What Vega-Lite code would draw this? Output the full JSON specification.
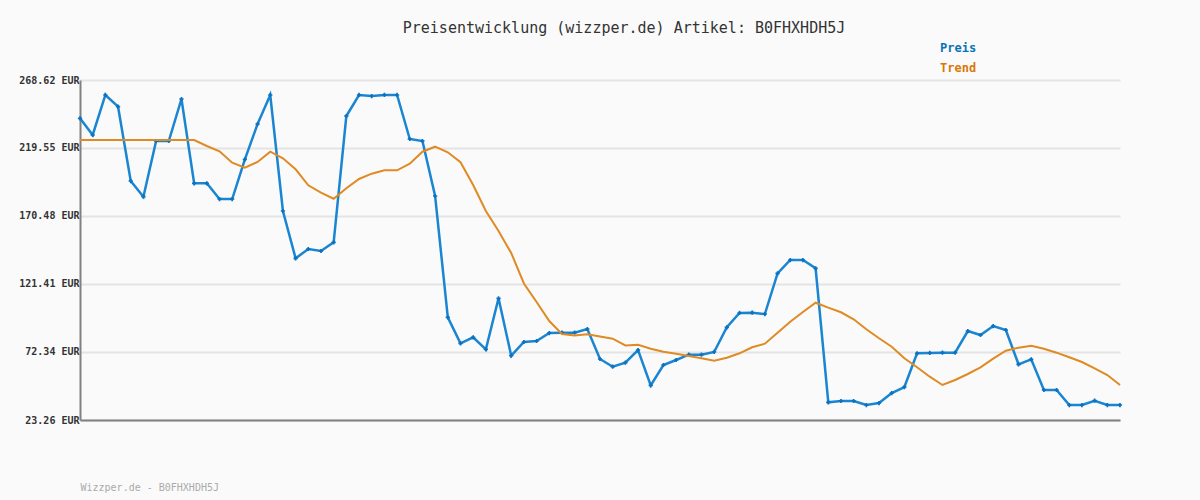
{
  "$schema": "https://vega.github.io/schema/vega-lite/v6.json",
  "width": 1040,
  "height": 340,
  "autosize": {"type": "none"},
  "padding": {"left": 80, "top": 80, "right": 80, "bottom": 80},
  "background": "#fafafa",
  "title": {
    "text": "Preisentwicklung (wizzper.de) Artikel: B0FHXHDH5J",
    "font": "DejaVu Sans Mono",
    "fontSize": 15,
    "fontWeight": "normal",
    "color": "#333333",
    "anchor": "middle",
    "dx": 24,
    "offset": 6
  },
  "config": {
    "view": {"stroke": null},
    "font": "DejaVu Sans Mono"
  },
  "datasets": {
    "preis": [
      {"idx":0,"value":240.98},{"idx":1,"value":228.93},{"idx":2,"value":257.80},{"idx":3,"value":249.35},
      {"idx":4,"value":195.73},{"idx":5,"value":184.40},{"idx":6,"value":224.60},{"idx":7,"value":224.60},
      {"idx":8,"value":254.91},{"idx":9,"value":194.07},{"idx":10,"value":194.07},{"idx":11,"value":182.74},
      {"idx":12,"value":182.74},{"idx":13,"value":211.39},{"idx":14,"value":236.87},{"idx":15,"value":257.80},
      {"idx":16,"value":174.08},{"idx":17,"value":139.95},{"idx":18,"value":146.66},{"idx":19,"value":145.22},
      {"idx":20,"value":151.50},{"idx":21,"value":242.64},{"idx":22,"value":257.80},{"idx":23,"value":257.07},
      {"idx":24,"value":257.80},{"idx":25,"value":257.80},{"idx":26,"value":226.04},{"idx":27,"value":224.60},
      {"idx":28,"value":184.91},{"idx":29,"value":97.37},{"idx":30,"value":78.61},{"idx":31,"value":82.94},
      {"idx":32,"value":74.28},{"idx":33,"value":111.08},{"idx":34,"value":69.66},{"idx":35,"value":79.55},
      {"idx":36,"value":80.27},{"idx":37,"value":86.04},{"idx":38,"value":86.26},{"idx":39,"value":86.26},
      {"idx":40,"value":88.93},{"idx":41,"value":67.28},{"idx":42,"value":61.72},{"idx":43,"value":64.61},
      {"idx":44,"value":73.77},{"idx":45,"value":48.30},{"idx":46,"value":62.95},{"idx":47,"value":66.56},
      {"idx":48,"value":70.38},{"idx":49,"value":70.38},{"idx":50,"value":72.34},{"idx":51,"value":90.16},
      {"idx":52,"value":100.48},{"idx":53,"value":100.70},{"idx":54,"value":99.75},{"idx":55,"value":129.13},
      {"idx":56,"value":138.72},{"idx":57,"value":138.72},{"idx":58,"value":132.73},{"idx":59,"value":36.03},
      {"idx":60,"value":36.97},{"idx":61,"value":36.97},{"idx":62,"value":34.08},{"idx":63,"value":35.52},
      {"idx":64,"value":42.74},{"idx":65,"value":47.07},{"idx":66,"value":71.40},{"idx":67,"value":71.62},
      {"idx":68,"value":71.84},{"idx":69,"value":71.84},{"idx":70,"value":87.48},{"idx":71,"value":84.60},
      {"idx":72,"value":91.09},{"idx":73,"value":88.21},{"idx":74,"value":63.45},{"idx":75,"value":67.06},
      {"idx":76,"value":44.91},{"idx":77,"value":44.91},{"idx":78,"value":34.08},{"idx":79,"value":34.08},
      {"idx":80,"value":37.19},{"idx":81,"value":34.08},{"idx":82,"value":34.08}
    ],
    "trend": [
      {"idx":0,"value":225.32},{"idx":1,"value":225.32},{"idx":2,"value":225.32},{"idx":3,"value":225.32},
      {"idx":4,"value":225.32},{"idx":5,"value":225.32},{"idx":6,"value":225.32},{"idx":7,"value":225.32},
      {"idx":8,"value":225.32},{"idx":9,"value":225.32},{"idx":10,"value":220.99},{"idx":11,"value":217.17},
      {"idx":12,"value":208.94},{"idx":13,"value":205.33},{"idx":14,"value":209.44},{"idx":15,"value":216.88},
      {"idx":16,"value":212.11},{"idx":17,"value":204.18},{"idx":18,"value":192.63},{"idx":19,"value":187.29},
      {"idx":20,"value":182.96},{"idx":21,"value":190.47},{"idx":22,"value":197.18},{"idx":23,"value":201.00},
      {"idx":24,"value":203.45},{"idx":25,"value":203.45},{"idx":26,"value":208.22},{"idx":27,"value":216.88},
      {"idx":28,"value":220.49},{"idx":29,"value":216.44},{"idx":30,"value":209.30},{"idx":31,"value":192.85},
      {"idx":32,"value":174.08},{"idx":33,"value":159.65},{"idx":34,"value":143.77},{"idx":35,"value":121.76},
      {"idx":36,"value":108.41},{"idx":37,"value":94.70},{"idx":38,"value":85.32},{"idx":39,"value":84.24},
      {"idx":40,"value":85.10},{"idx":41,"value":83.52},{"idx":42,"value":81.93},{"idx":43,"value":77.02},
      {"idx":44,"value":77.59},{"idx":45,"value":74.71},{"idx":46,"value":72.55},{"idx":47,"value":71.10},
      {"idx":48,"value":69.44},{"idx":49,"value":67.86},{"idx":50,"value":65.98},{"idx":51,"value":68.22},
      {"idx":52,"value":71.40},{"idx":53,"value":75.73},{"idx":54,"value":78.33},{"idx":55,"value":86.26},
      {"idx":56,"value":94.20},{"idx":57,"value":101.20},{"idx":58,"value":107.91},{"idx":59,"value":104.31},
      {"idx":60,"value":100.99},{"idx":61,"value":95.94},{"idx":62,"value":88.72},{"idx":63,"value":82.23},
      {"idx":64,"value":76.16},{"idx":65,"value":67.79},{"idx":66,"value":61.29},{"idx":67,"value":54.51},
      {"idx":68,"value":48.52},{"idx":69,"value":52.12},{"idx":70,"value":56.45},{"idx":71,"value":61.29},
      {"idx":72,"value":67.50},{"idx":73,"value":73.27},{"idx":74,"value":75.44},{"idx":75,"value":76.88},
      {"idx":76,"value":74.71},{"idx":77,"value":71.84},{"idx":78,"value":68.51},{"idx":79,"value":65.12},
      {"idx":80,"value":60.57},{"idx":81,"value":55.74},{"idx":82,"value":48.52}
    ]
  },
  "encoding": {
    "x": {
      "field": "idx",
      "type": "quantitative",
      "scale": {"domain": [0, 82], "nice": false, "zero": false},
      "axis": {
        "title": "Wizzper.de - B0FHXHDH5J",
        "titleFont": "DejaVu Sans Mono",
        "titleFontSize": 10,
        "titleFontWeight": "normal",
        "titleColor": "#aaaaaa",
        "titleAnchor": "start",
        "titleAlign": "left",
        "titleBaseline": "middle",
        "titleX": 0,
        "titleY": 67,
        "labels": false,
        "ticks": false,
        "grid": false,
        "domainColor": "#808080",
        "domainWidth": 2
      }
    },
    "y": {
      "field": "value",
      "type": "quantitative",
      "scale": {"domain": [23.26, 268.62], "nice": false, "zero": false},
      "axis": {
        "title": null,
        "values": [23.26, 72.34, 121.41, 170.48, 219.55, 268.62],
        "labelExpr": "format(datum.value, '.2f') + ' EUR'",
        "labelFont": "DejaVu Sans Mono",
        "labelFontSize": 10,
        "labelFontWeight": "bold",
        "labelColor": "#333333",
        "labelPadding": 1,
        "ticks": false,
        "grid": true,
        "gridColor": "#e4e4e4",
        "gridWidth": 2,
        "domainColor": "#808080",
        "domainWidth": 2
      }
    }
  },
  "layer": [
    {
      "data": {"name": "preis"},
      "mark": {"type": "line", "color": "#1a85d0", "strokeWidth": 2.5},
      "encoding": {}
    },
    {
      "data": {"name": "preis"},
      "mark": {"type": "point", "shape": "cross", "size": 18, "filled": true, "color": "#0a72c0", "opacity": 1},
      "encoding": {}
    },
    {
      "data": {"name": "trend"},
      "mark": {"type": "line", "color": "#e08a24", "strokeWidth": 2},
      "encoding": {}
    },
    {
      "data": {"values": [{"series": "Preis"}, {"series": "Trend"}]},
      "mark": {"type": "point", "opacity": 0},
      "encoding": {
        "x": {"value": 0},
        "y": {"value": 0},
        "color": {
          "field": "series",
          "type": "nominal",
          "scale": {"domain": ["Preis", "Trend"], "range": ["#0a72b5", "#d97706"]},
          "legend": {
            "orient": "none",
            "legendX": 848,
            "legendY": -38,
            "title": null,
            "symbolSize": 0,
            "symbolStrokeWidth": 0,
            "symbolOpacity": 0,
            "labelOffset": 0,
            "labelFont": "DejaVu Sans Mono",
            "labelFontSize": 12,
            "labelFontWeight": "bold",
            "rowPadding": 8,
            "labelColor": {"expr": "datum.value === 'Preis' ? '#0a72b5' : '#d97706'"}
          }
        }
      }
    }
  ]
}
